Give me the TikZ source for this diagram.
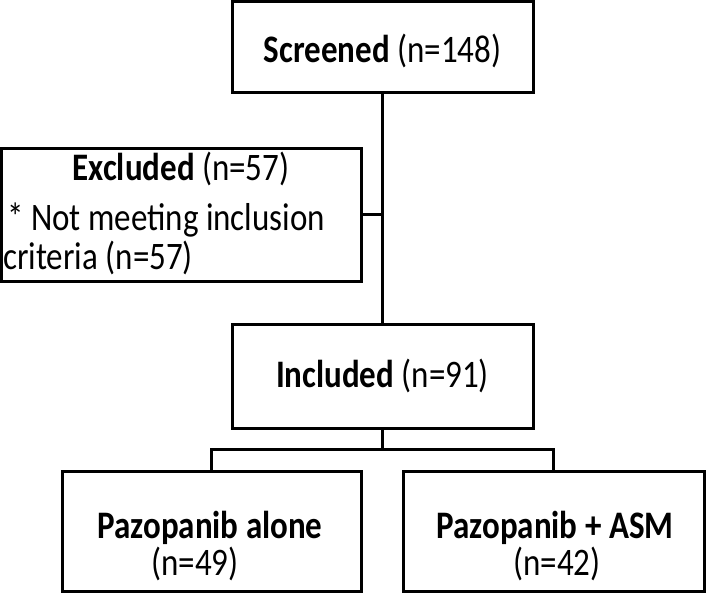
\documentclass[tikz,border=0pt]{standalone}
\usepackage{fontspec}
\setmainfont{Carlito}
\newcommand{\tallt}[1]{\scalebox{1}[1.18]{#1}}
\begin{document}
\begin{tikzpicture}[x=1pt,y=-1pt,
  box/.style={draw=black, line width=3pt, inner sep=0pt, fill=white},
  txt/.style={font=\fontsize{33}{40}\selectfont, inner sep=0pt},
  conn/.style={draw=black, line width=3pt}]
\useasboundingbox[fill=white] (0,0) rectangle (709,594);
\coordinate (split) at (382.5,449);
\node[box, minimum width=301pt, minimum height=90pt] (scr) at (382.5,47) {};
\node[box, minimum width=359.5pt, minimum height=133pt] (exc) at (181.25,214.5) {};
\node[box, minimum width=301pt, minimum height=104pt] (inc) at (382.5,376) {};
\node[box, minimum width=299pt, minimum height=120pt] (lft) at (211.5,531) {};
\node[box, minimum width=301pt, minimum height=120pt] (rgt) at (553.5,531) {};
\draw[conn] (scr.south) -- (inc.north);
\draw[conn] (exc.east) -- (exc.east -| scr.south);
\draw[conn] (inc.south) -- (split);
\draw[conn] (lft.north) |- (split) -| (rgt.north);
\node[txt, anchor=base] (scrt) at (382.5,63) {\tallt{\textbf{Screened} (n=148)}};
\node[txt, anchor=base] (exct1) at (181,180) {\tallt{\textbf{Excluded} (n=57)}};
\node[txt, anchor=base west] (exct2) at (7,230) {\tallt{* Not meeting inclusion}};
\node[txt, anchor=base west] (exct3) at (3,269) {\tallt{criteria (n=57)}};
\node[txt, anchor=base] (inct) at (382.5,387) {\tallt{\textbf{Included} (n=91)}};
\node[txt, anchor=base] (lftt1) at (210,538) {\tallt{\textbf{Pazopanib alone}}};
\node[txt, anchor=base] (lftt2) at (195,575) {\tallt{(n=49)}};
\node[txt, anchor=base] (rgtt1) at (555,538) {\tallt{\textbf{Pazopanib + ASM}}};
\node[txt, anchor=base] (rgtt2) at (557,575) {\tallt{(n=42)}};
\end{tikzpicture}
\end{document}
